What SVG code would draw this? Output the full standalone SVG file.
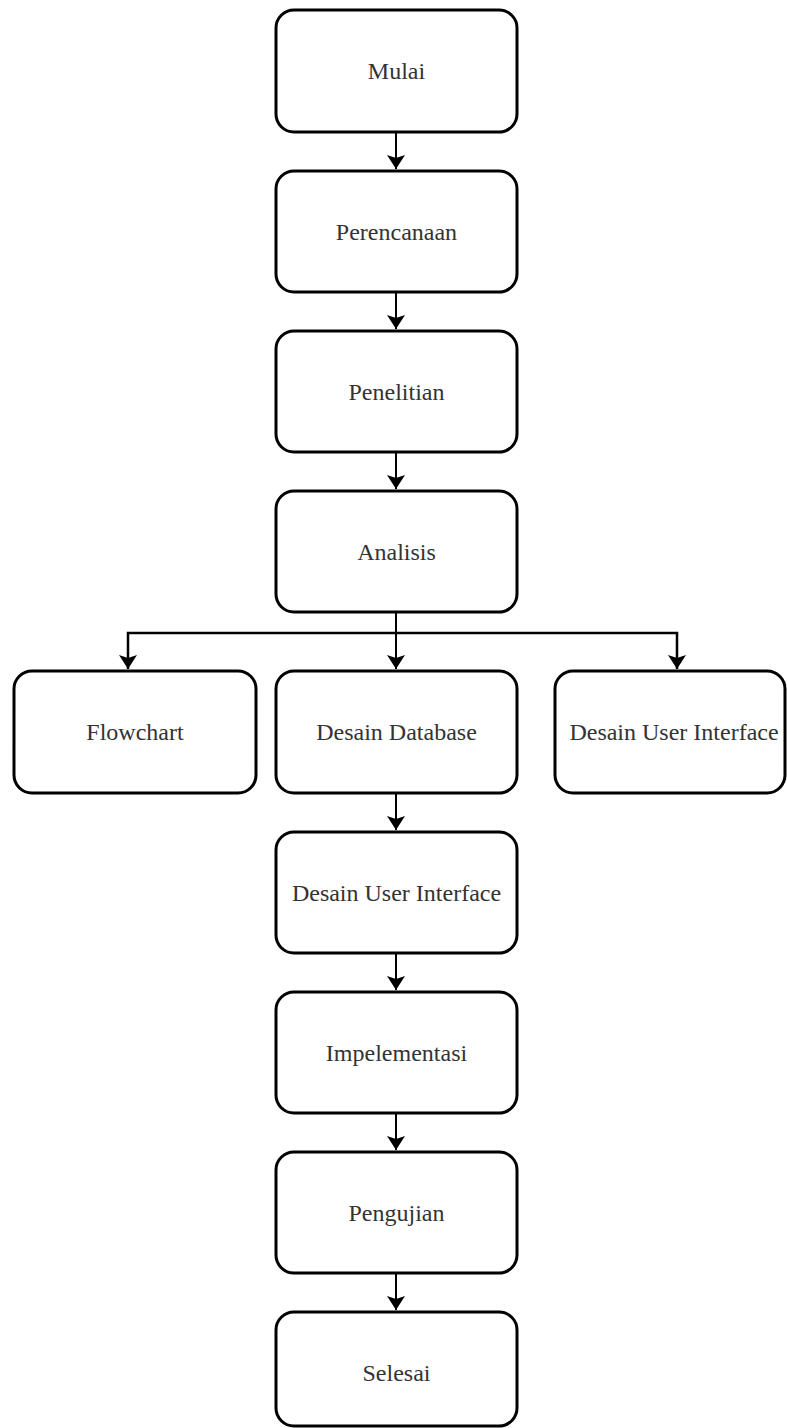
<svg xmlns="http://www.w3.org/2000/svg" width="787" height="1428" viewBox="0 0 787 1428">
<style>
.box{fill:#fff;stroke:#000;stroke-width:3}
.ln{fill:none;stroke:#000;stroke-width:2}
.lbl{font-family:'Liberation Serif','Times New Roman',serif;font-size:24px;fill:#333;text-anchor:middle}
</style>
<defs>
<marker id="ah" markerUnits="userSpaceOnUse" markerWidth="16" markerHeight="20" viewBox="0 0 16 20" refX="15" refY="10" orient="auto">
<path d="M1,1 L4,10 L1,19 L15,10 Z" fill="#000"/>
</marker>
</defs>
<rect width="787" height="1428" fill="#fff"/>
<g id="connectors">
<path class="ln" d="M396,132 V169" marker-end="url(#ah)"/>
<path class="ln" d="M396,292 V329" marker-end="url(#ah)"/>
<path class="ln" d="M396,452 V489" marker-end="url(#ah)"/>
<path class="ln" d="M396,612 V669" marker-end="url(#ah)"/>
<path class="ln" d="M396,633 H128 V669" marker-end="url(#ah)" style="stroke-width:2.5"/>
<path class="ln" d="M396,633 H677 V669" marker-end="url(#ah)" style="stroke-width:2.5"/>
<path class="ln" d="M396,793 V830" marker-end="url(#ah)"/>
<path class="ln" d="M396,953 V990" marker-end="url(#ah)"/>
<path class="ln" d="M396,1113 V1150" marker-end="url(#ah)"/>
<path class="ln" d="M396,1273 V1310" marker-end="url(#ah)"/>
</g>
<g id="mulai"><rect class="box" x="276" y="10" width="241" height="122" rx="18"/><text class="lbl" x="396.5" y="79">Mulai</text></g>
<g id="perencanaan"><rect class="box" x="276" y="171" width="241" height="121" rx="18"/><text class="lbl" x="396.5" y="240">Perencanaan</text></g>
<g id="penelitian"><rect class="box" x="276" y="331" width="241" height="121" rx="18"/><text class="lbl" x="396.5" y="400">Penelitian</text></g>
<g id="analisis"><rect class="box" x="276" y="491" width="241" height="121" rx="18"/><text class="lbl" x="396.5" y="560">Analisis</text></g>
<g id="flowchart"><rect class="box" x="14" y="671" width="242" height="122" rx="18"/><text class="lbl" x="135" y="740">Flowchart</text></g>
<g id="desain-database"><rect class="box" x="276" y="671" width="241" height="122" rx="18"/><text class="lbl" x="396.5" y="740">Desain Database</text></g>
<g id="desain-ui-kanan"><rect class="box" x="555" y="671" width="230" height="122" rx="18"/><text class="lbl" x="674" y="740">Desain User Interface</text></g>
<g id="desain-ui"><rect class="box" x="276" y="832" width="241" height="121" rx="18"/><text class="lbl" x="396.5" y="901">Desain User Interface</text></g>
<g id="impelementasi"><rect class="box" x="276" y="992" width="241" height="121" rx="18"/><text class="lbl" x="396.5" y="1061">Impelementasi</text></g>
<g id="pengujian"><rect class="box" x="276" y="1152" width="241" height="121" rx="18"/><text class="lbl" x="396.5" y="1221">Pengujian</text></g>
<g id="selesai"><rect class="box" x="276" y="1312" width="241" height="114" rx="18"/><text class="lbl" x="396.5" y="1381">Selesai</text></g>
</svg>
